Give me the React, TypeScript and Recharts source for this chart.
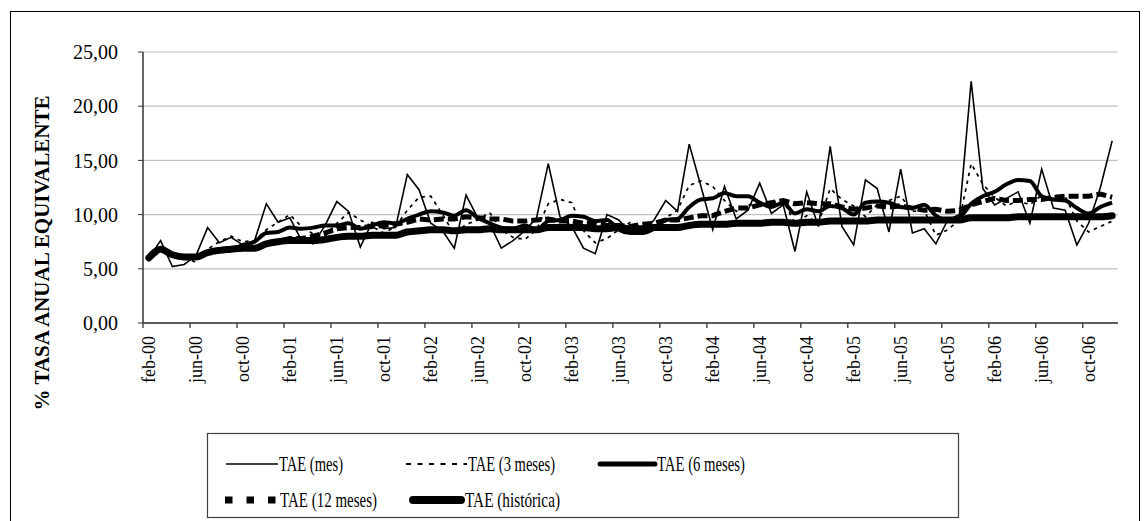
import { LineChart, Line, XAxis, YAxis, CartesianGrid } from "recharts";

// Month labels (Spanish abbreviations), feb-00 .. dic-06
const MONTHS = ["ene", "feb", "mar", "abr", "may", "jun", "jul", "ago", "sep", "oct", "nov", "dic"];
const YEARS = ["00", "01", "02", "03", "04", "05", "06"];
const CATEGORIES: string[] = [];
YEARS.forEach((yy, yi) =>
  MONTHS.forEach((mm, mi) => {
    if (yi === 0 && mi === 0) return;
    CATEGORIES.push(`${mm}-${yy}`);
  })
);

const Y_TICKS = [0, 5, 10, 15, 20, 25];

// TAE (mes)
const TAE_MES = [
  6.0, 7.6, 5.2, 5.4, 6.2, 8.8, 7.4, 7.9, 7.2, 7.6,
  11.0, 9.3, 9.7, 7.6, 7.3, 9.0, 11.2, 10.3, 7.0, 9.3,
  8.7, 8.8, 13.7, 12.3, 9.2, 8.5, 6.9, 11.8, 9.7, 9.2,
  6.9, 7.6, 8.5, 9.7, 14.7, 9.8, 8.9, 6.9, 6.4, 10.0,
  9.5, 8.3, 8.4, 9.5, 11.3, 10.3, 16.5, 12.6, 8.6, 12.6,
  9.6, 10.4, 12.9, 10.1, 10.9, 6.6, 12.1, 8.9, 16.3, 8.9,
  7.2, 13.2, 12.4, 8.4, 14.2, 8.3, 8.7, 7.3, 9.5, 10.0,
  22.3, 12.4, 10.9, 11.5, 12.1, 9.2, 14.2, 10.6, 10.4, 7.2,
  9.2, 12.5, 16.8,
];

// TAE (3 meses)
const TAE_3M = [
  6.0, 6.8, 6.3, 6.1, 5.6, 6.8, 7.5, 8.0, 7.5, 7.6,
  8.6, 9.3, 10.0, 8.9, 8.2, 8.0, 9.2, 10.2, 9.5, 8.9,
  8.3, 8.9, 10.4, 11.6, 11.7, 10.0, 8.2, 9.1, 9.5, 10.2,
  8.6, 7.9, 7.7, 8.6, 11.0, 11.4, 11.1, 8.5, 7.4, 7.8,
  8.6, 9.3, 8.7, 8.7, 9.7, 10.4, 12.7, 13.1, 12.6, 11.3,
  10.3, 10.9, 11.0, 11.1, 11.3, 9.2, 9.9, 9.2, 12.4, 11.4,
  10.8, 9.8, 10.9, 11.3, 11.7, 10.3, 10.4, 8.1, 8.6, 9.5,
  14.7, 12.8, 11.6, 10.8, 11.3, 10.9, 11.8, 11.3, 11.7, 9.4,
  8.4, 8.9, 9.4,
];

// TAE (6 meses)
const TAE_6M = [
  6.0, 6.8, 6.3, 6.1, 6.1, 6.5, 6.8, 6.8, 7.2, 7.5,
  8.3, 8.4, 8.8, 8.7, 8.8, 9.0, 9.0, 9.2, 8.7, 9.0,
  9.3, 9.2, 9.6, 10.0, 10.3, 10.2, 9.9, 10.4, 9.7, 9.2,
  8.8, 8.7, 9.0, 8.6, 9.4, 9.5, 9.9, 9.8, 9.4, 9.5,
  8.6, 8.3, 8.3, 8.7, 9.5, 9.6, 10.7, 11.4, 11.5, 12.0,
  11.7, 11.7, 11.1, 10.7, 11.1, 10.1, 10.5, 10.3, 10.8, 10.6,
  10.0, 11.1, 11.2, 11.1, 10.7, 10.6, 10.9, 9.9, 9.4, 9.7,
  11.0, 11.7, 12.1, 12.8, 13.2, 13.1, 11.7, 11.4, 11.3, 10.6,
  10.1, 10.7, 11.1,
];

// TAE (12 meses)
const TAE_12M = [
  6.0, 6.8, 6.3, 6.1, 6.1, 6.5, 6.7, 6.8, 6.9, 6.9,
  7.3, 7.5, 7.8, 7.8, 8.0, 8.3, 8.7, 8.8, 8.8, 8.9,
  9.0, 9.1, 9.3, 9.6, 9.5, 9.6, 9.6, 9.8, 9.7, 9.6,
  9.6, 9.4, 9.4, 9.5, 9.6, 9.4, 9.4, 9.2, 9.2, 9.0,
  9.0, 8.9, 9.1, 9.2, 9.5, 9.5, 9.7, 9.9, 9.9, 10.3,
  10.6, 10.6, 10.9, 11.1, 11.3, 11.0, 11.1, 11.0, 11.0, 10.7,
  10.5, 10.6, 10.8, 10.7, 10.8, 10.6, 10.4, 10.5, 10.3, 10.4,
  10.9, 11.2, 11.5, 11.3, 11.3, 11.4, 11.4, 11.6, 11.7, 11.7,
  11.7, 11.9, 11.6,
];

// TAE (histórica)
const TAE_HIST = [
  6.0, 6.8, 6.3, 6.1, 6.1, 6.5, 6.7, 6.8, 6.9, 6.9,
  7.3, 7.5, 7.6, 7.6, 7.6, 7.7, 7.9, 8.0, 8.0, 8.1,
  8.1, 8.1, 8.4, 8.5, 8.6, 8.6, 8.5, 8.6, 8.6, 8.7,
  8.6, 8.6, 8.6, 8.6, 8.8, 8.8, 8.8, 8.8, 8.7, 8.7,
  8.8, 8.7, 8.7, 8.8, 8.8, 8.8, 9.0, 9.1, 9.1, 9.1,
  9.2, 9.2, 9.2, 9.3, 9.3, 9.2, 9.3, 9.3, 9.4, 9.4,
  9.4, 9.4, 9.5, 9.5, 9.5, 9.5, 9.5, 9.5, 9.5, 9.5,
  9.7, 9.7, 9.7, 9.7, 9.8, 9.8, 9.8, 9.8, 9.8, 9.8,
  9.8, 9.8, 9.9,
];

const data = CATEGORIES.map((c, i) => ({
  mes: c,
  m: TAE_MES[i],
  t3: TAE_3M[i],
  t6: TAE_6M[i],
  t12: TAE_12M[i],
  h: TAE_HIST[i],
}));

const W = 1144;
const H = 521;
const PLOT_LEFT = 143;
const PLOT_RIGHT = 1118;
const PLOT_TOP = 52;
const PLOT_BOTTOM = 323;
const HALF = (PLOT_RIGHT - PLOT_LEFT) / CATEGORIES.length / 2;
const SERIF = '"Liberation Serif", "Times New Roman", serif';

const fmt = (v: number) => v.toFixed(2).replace(".", ",");

// category label centred on the month, tick mark on the boundary before it (Excel style)
function XTick(props: any) {
  const { x, payload } = props;
  const tx = x - HALF;
  return (
    <g>
      <line x1={tx} y1={PLOT_BOTTOM} x2={tx} y2={PLOT_BOTTOM + 5} stroke="#333" strokeWidth={1.3} />
      <text
        x={0}
        y={0}
        transform={`translate(${x + 6}, ${PLOT_BOTTOM + 13}) rotate(-90)`}
        textAnchor="end"
        fontSize={18}
        fontFamily={SERIF}
        fill="#000"
      >
        {payload.value}
      </text>
    </g>
  );
}

const legendRows = [
  { label: "TAE (mes)", x1: 226, x2: 278, y: 464, tx: 279, len: 64, w: 1.5, dash: undefined, cap: "butt" },
  { label: "TAE (3 meses)", x1: 406, x2: 467, y: 464, tx: 468, len: 87, w: 2, dash: "5 6.5", cap: "butt" },
  { label: "TAE (6 meses)", x1: 600, x2: 655, y: 464, tx: 657, len: 88, w: 5, dash: undefined, cap: "round" },
  { label: "TAE (12 meses)", x1: 225, x2: 278, y: 500, tx: 280, len: 97, w: 7, dash: "7.5 14", cap: "butt" },
  { label: "TAE (histórica)", x1: 413, x2: 461, y: 500, tx: 465, len: 95, w: 8, dash: undefined, cap: "round" },
];

export default function App() {
  return (
    <div style={{ position: "absolute", left: 0, top: 0, width: W, height: H, background: "#fff", overflow: "hidden" }}>
      <div
        style={{
          position: "absolute",
          left: 10,
          top: 11,
          width: 1130,
          height: 540,
          border: "1px solid #000",
          boxSizing: "border-box",
        }}
      />
      <div style={{ position: "absolute", left: 0, top: 0 }}>
        <LineChart
          width={W}
          height={H}
          data={data}
          margin={{ top: PLOT_TOP, right: W - PLOT_RIGHT, left: 0, bottom: 0 }}
        >
          <CartesianGrid vertical={false} stroke="#c0c0c0" strokeWidth={1.2} />
          <XAxis
            dataKey="mes"
            height={H - PLOT_BOTTOM}
            interval={3}
            padding={{ left: HALF, right: HALF }}
            axisLine={{ stroke: "#333", strokeWidth: 1.5 }}
            tickLine={false}
            tick={<XTick />}
          />
          <XAxis
            xAxisId="frame"
            orientation="top"
            dataKey="mes"
            height={0}
            tick={false}
            tickLine={false}
            axisLine={{ stroke: "#808080", strokeWidth: 1.5 }}
          />
          <YAxis
            width={PLOT_LEFT}
            domain={[0, 25]}
            ticks={Y_TICKS}
            interval={0}
            tickFormatter={fmt}
            tickSize={5}
            tickMargin={20}
            axisLine={{ stroke: "#333", strokeWidth: 1.5 }}
            tickLine={{ stroke: "#333" }}
            tick={{ fontSize: 20, fill: "#000", fontFamily: SERIF }}
          />
          <YAxis
            yAxisId="frame"
            orientation="right"
            width={0}
            domain={[0, 25]}
            tick={false}
            tickLine={false}
            axisLine={{ stroke: "#808080", strokeWidth: 1.5 }}
          />
          <Line dataKey="m" type="linear" stroke="#000" strokeWidth={1.6} dot={false} isAnimationActive={false} />
          <Line
            dataKey="t3"
            type="linear"
            stroke="#000"
            strokeWidth={1.7}
            strokeDasharray="3.5 4.5"
            dot={false}
            isAnimationActive={false}
          />
          <Line
            dataKey="t6"
            type="monotone"
            stroke="#000"
            strokeWidth={4}
            strokeLinejoin="round"
            dot={false}
            isAnimationActive={false}
          />
          <Line
            dataKey="t12"
            type="linear"
            stroke="#000"
            strokeWidth={5}
            strokeDasharray="10 4"
            dot={false}
            isAnimationActive={false}
          />
          <Line
            dataKey="h"
            type="monotone"
            stroke="#000"
            strokeWidth={7}
            strokeLinecap="round"
            strokeLinejoin="round"
            dot={false}
            isAnimationActive={false}
          />
        </LineChart>
      </div>
      <svg width={W} height={H} style={{ position: "absolute", left: 0, top: 0, pointerEvents: "none" }}>
        <text
          transform="translate(49, 253) rotate(-90)"
          textAnchor="middle"
          fontSize={21}
          fontWeight="bold"
          fontFamily={SERIF}
          textLength={315}
          lengthAdjust="spacingAndGlyphs"
          fill="#000"
        >
          % TASA ANUAL EQUIVALENTE
        </text>
        <rect x={207.5} y={433.5} width={751} height={84} fill="#fff" stroke="#404040" strokeWidth={1.2} />
        {legendRows.map((r) => (
          <g key={r.label}>
            <line
              x1={r.x1}
              x2={r.x2}
              y1={r.y}
              y2={r.y}
              stroke="#000"
              strokeWidth={r.w}
              strokeDasharray={r.dash}
              strokeLinecap={r.cap as any}
            />
            <text
              x={r.tx}
              y={r.y}
              dominantBaseline="central"
              fontSize={21}
              fontFamily={SERIF}
              textLength={r.len}
              lengthAdjust="spacingAndGlyphs"
              fill="#000"
            >
              {r.label}
            </text>
          </g>
        ))}
      </svg>
    </div>
  );
}
